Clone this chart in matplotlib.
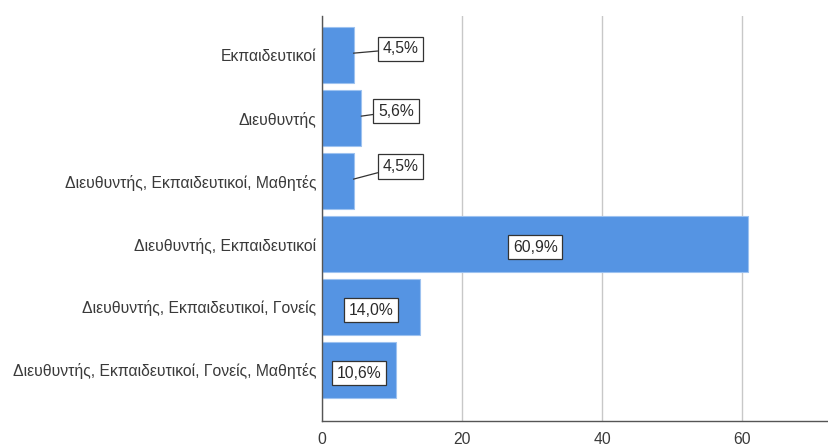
import matplotlib
matplotlib.use('Agg')
import matplotlib.pyplot as plt

categories = ['Εκπαιδευτικοί', 'Διευθυντής', 'Διευθυντής, Εκπαιδευτικοί, Μαθητές',
              'Διευθυντής, Εκπαιδευτικοί', 'Διευθυντής, Εκπαιδευτικοί, Γονείς',
              'Διευθυντής, Εκπαιδευτικοί, Γονείς, Μαθητές']
percent = [4.5, 5.6, 4.5, 60.9, 14.0, 10.6]
xticks = [0, 20, 40, 60]

# offsets (points) of the labels that sit outside the short bars
outside = {0: (34, 3), 1: (25, 3.5), 2: (34, 9)}

plt.rcParams['font.family'] = ['Liberation Sans', 'DejaVu Sans']
fs = 11.3
fig = plt.figure(figsize=(8.29, 4.46), dpi=100)
ax = fig.add_axes([322/829, 25/446, 1 - 322/829, 405/446])

pos = range(len(categories))
ax.barh(pos, percent, height=0.89, color='#5594e3', edgecolor='#9dc2f0', linewidth=0.8, zorder=2)

box = dict(boxstyle='square,pad=0.3', fc='white', ec='#333333', lw=0.9)
for i, v in enumerate(percent):
    txt = ('%.1f%%' % v).replace('.', ',')
    if i in outside:
        dx, dy = outside[i]
        ax.annotate(txt, xy=(v, i - 0.03), xytext=(dx, dy), textcoords='offset points',
                    ha='center', va='center', fontsize=fs, color='#2a2a2a', bbox=box,
                    arrowprops=dict(arrowstyle='-', color='#333333', lw=0.9, shrinkA=0, shrinkB=0),
                    zorder=4)
    else:
        ax.text(v / 2, i + 0.05, txt, ha='center', va='center', fontsize=fs,
                color='#2a2a2a', bbox=box, zorder=4)

ax.set_yticks(list(pos))
ax.set_yticklabels(categories, fontsize=fs, color='#3a3a3a')
ax.set_ylim(5.81, -0.62)
ax.set_xlim(0, 72.4)
ax.set_xticks(xticks)
ax.set_xticklabels([str(t) for t in xticks], fontsize=fs, color='#3a3a3a')
ax.tick_params(axis='x', length=0, pad=8)
ax.tick_params(axis='y', length=0, pad=4)
ax.grid(axis='x', color='#c8c8c8', lw=1, zorder=0)
ax.set_axisbelow(True)
for s in ['top', 'right']:
    ax.spines[s].set_visible(False)
for s in ['left', 'bottom']:
    ax.spines[s].set_color('#555555')
    ax.spines[s].set_linewidth(1)

fig.savefig('out.png', dpi=100)
